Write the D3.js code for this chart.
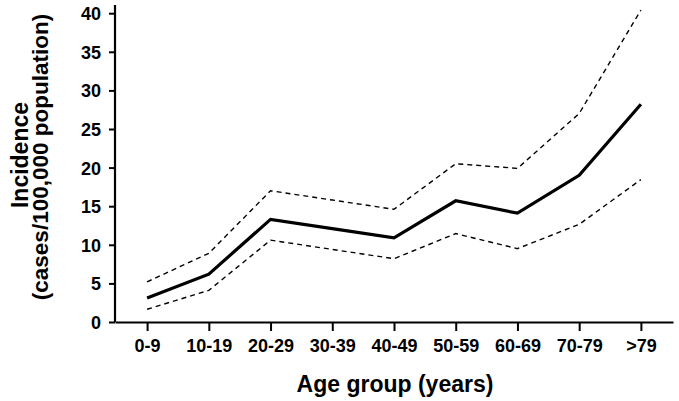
<!DOCTYPE html>
<html>
<head>
<meta charset="utf-8">
<script src="https://cdnjs.cloudflare.com/ajax/libs/d3/7.8.5/d3.min.js"></script>
<style>
  body { margin: 0; background: #fff; }
  text { font-family: "Liberation Sans", Arial, sans-serif; font-weight: bold; fill: #000; }
</style>
</head>
<body>
<div id="chart"></div>
<script>
// data
var ageGroups = ["0-9", "10-19", "20-29", "30-39", "40-49", "50-59", "60-69", "70-79", ">79"];
var incidence = [3.1, 6.2, 13.3, 12.1, 10.9, 15.7, 14.1, 19.0, 28.2];
var upperCI = [5.2, 8.9, 17.0, 15.8, 14.6, 20.5, 19.9, 27.0, 40.4];
var lowerCI = [1.65, 4.1, 10.6, 9.4, 8.2, 11.45, 9.5, 12.65, 18.45];
var yTicks = [0, 5, 10, 15, 20, 25, 30, 35, 40];

var svgWidth = 679;
var svgHeight = 401;
var margin = { top: 5, right: 6, bottom: 79, left: 115 };
var width = svgWidth - margin.left - margin.right;
var height = svgHeight - margin.top - margin.bottom;

var svg = d3.select("#chart")
  .append("svg")
  .attr("width", svgWidth)
  .attr("height", svgHeight);

var chartGroup = svg.append("g")
  .attr("transform", `translate(${margin.left}, ${margin.top})`);

// scales
var xScale = d3.scalePoint()
  .domain(ageGroups)
  .range([0, width])
  .padding(0.52);

var yScale = d3.scaleLinear()
  .domain([0, 40])
  .range([height, height - 40 * 7.72]);

// axes
var bottomAxis = d3.axisBottom(xScale).tickSize(9).tickPadding(8).tickSizeOuter(0);
var leftAxis = d3.axisLeft(yScale).tickValues(yTicks).tickSize(6).tickPadding(8).tickSizeOuter(0);

var xAxisG = chartGroup.append("g")
  .attr("transform", `translate(0, ${height})`)
  .call(bottomAxis);

var yAxisG = chartGroup.append("g")
  .call(leftAxis);

// stretch y axis line to top of plot
yAxisG.select(".domain").attr("d", `M0,${height}V0`);

[xAxisG, yAxisG].forEach(function(g) {
  g.select(".domain").attr("stroke", "#000").attr("stroke-width", 2.2);
  g.selectAll(".tick line").attr("stroke", "#000").attr("stroke-width", 2);
  g.selectAll(".tick text")
    .attr("font-size", "18px")
    .attr("font-family", "Liberation Sans, Arial, sans-serif")
    .attr("font-weight", "bold")
    .attr("fill", "#000");
});
yAxisG.selectAll(".tick text").attr("dy", "0.36em");

// lines
var lineGen = d3.line()
  .x(function(d, i) { return xScale(ageGroups[i]); })
  .y(function(d) { return yScale(d); });

chartGroup.append("path")
  .datum(upperCI)
  .attr("d", lineGen)
  .attr("fill", "none")
  .attr("stroke", "#000")
  .attr("stroke-width", 1.4)
  .attr("stroke-dasharray", "5,4");

chartGroup.append("path")
  .datum(lowerCI)
  .attr("d", lineGen)
  .attr("fill", "none")
  .attr("stroke", "#000")
  .attr("stroke-width", 1.4)
  .attr("stroke-dasharray", "5,4");

chartGroup.append("path")
  .datum(incidence)
  .attr("d", lineGen)
  .attr("fill", "none")
  .attr("stroke", "#000")
  .attr("stroke-width", 3.2)
  .attr("stroke-linejoin", "miter");

// axis labels
chartGroup.append("text")
  .attr("x", 280)
  .attr("y", height + 70)
  .attr("text-anchor", "middle")
  .attr("font-size", "23px")
  .text("Age group (years)");

svg.append("text")
  .attr("transform", "rotate(-90)")
  .attr("x", -155)
  .attr("y", 28)
  .attr("text-anchor", "middle")
  .attr("font-size", "23px")
  .text("Incidence");

svg.append("text")
  .attr("transform", "rotate(-90)")
  .attr("x", -157)
  .attr("y", 48)
  .attr("text-anchor", "middle")
  .attr("font-size", "22.5px")
  .text("(cases/100,000 population)");
</script>
</body>
</html>
